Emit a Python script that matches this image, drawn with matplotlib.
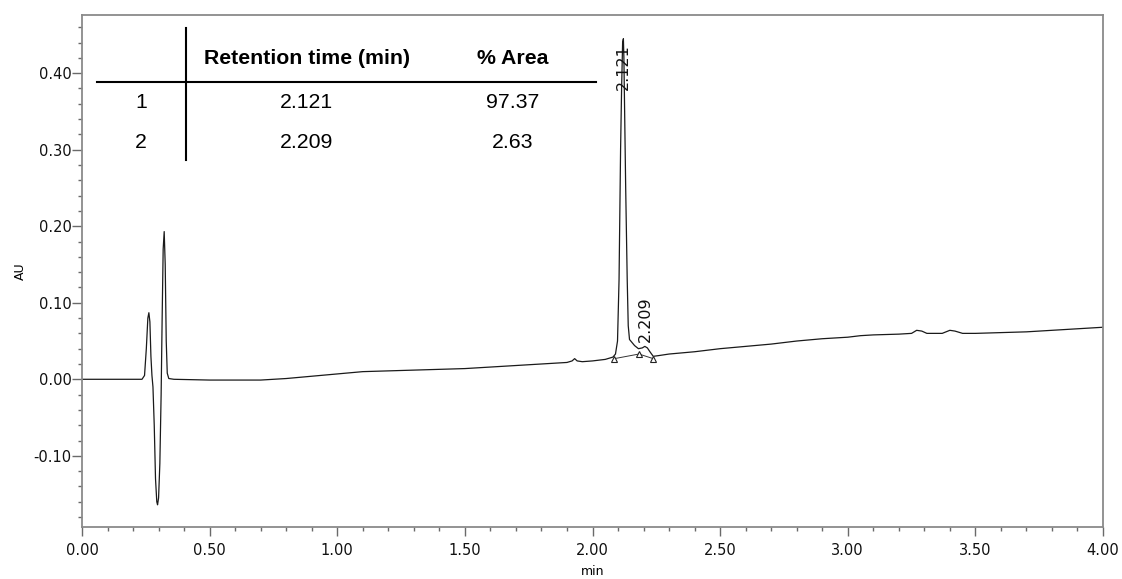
import numpy as np
import matplotlib.pyplot as plt
from matplotlib.lines import Line2D
from matplotlib.ticker import MultipleLocator, FormatStrFormatter

# chromatogram trace (time in min, absorbance in AU)
t = [0.00, 0.10, 0.20, 0.235, 0.245, 0.252, 0.258, 0.262, 0.266, 0.270, 0.274,
     0.278, 0.283, 0.288, 0.293, 0.296, 0.300, 0.305, 0.310, 0.314, 0.318,
     0.322, 0.326, 0.330, 0.334, 0.340, 0.36, 0.50, 0.60, 0.70, 0.80, 0.90,
     1.00, 1.10, 1.20, 1.30, 1.40, 1.50, 1.60, 1.70, 1.80, 1.90, 1.92, 1.93,
     1.94, 1.96, 2.00, 2.05, 2.08, 2.09, 2.098, 2.104, 2.110, 2.114, 2.118,
     2.121, 2.123, 2.130, 2.136, 2.140, 2.145, 2.155, 2.165, 2.180, 2.195,
     2.205, 2.215, 2.225, 2.238, 2.26, 2.30, 2.40, 2.50, 2.60, 2.70, 2.80,
     2.90, 3.00, 3.05, 3.10, 3.20, 3.25, 3.27, 3.29, 3.31, 3.37, 3.40, 3.42,
     3.45, 3.50, 3.60, 3.70, 3.80, 3.90, 4.00]
au = [0.000, 0.000, 0.000, 0.000, 0.005, 0.040, 0.080, 0.087, 0.075, 0.030, 0.005,
      -0.010, -0.060, -0.130, -0.160, -0.164, -0.155, -0.110, -0.020, 0.080, 0.170,
      0.193, 0.150, 0.050, 0.008, 0.001, 0.000, -0.001, -0.001, -0.001, 0.001, 0.004,
      0.007, 0.010, 0.011, 0.012, 0.013, 0.014, 0.016, 0.018, 0.020, 0.022, 0.024, 0.027,
      0.024, 0.023, 0.024, 0.026, 0.029, 0.033, 0.050, 0.130, 0.300, 0.380, 0.440,
      0.445, 0.420, 0.250, 0.130, 0.070, 0.052, 0.048, 0.044, 0.040, 0.041,
      0.043, 0.041, 0.036, 0.030, 0.031, 0.033, 0.036, 0.040, 0.043, 0.046, 0.050,
      0.053, 0.055, 0.057, 0.058, 0.059, 0.060, 0.064, 0.063, 0.060, 0.060, 0.064, 0.063,
      0.060, 0.060, 0.061, 0.062, 0.064, 0.066, 0.068]

# integration marks
mark_t = [2.086, 2.182, 2.238]
mark_au = [0.027, 0.033, 0.027]

# peak labels
peak_t = [2.121, 2.209]
peak_label_y = [0.378, 0.049]

# results table
peak_ids = ['1', '2']
ret_times = ['2.121', '2.209']
pct_area = ['97.37', '2.63']

W, H = 1122, 579
fig = plt.figure(figsize=(W / 100, H / 100), dpi=100)
ax = fig.add_axes([82 / W, 1 - 527 / H, (1103 - 82) / W, (527 - 15) / H])

ax.plot(t, au, color='#1a1a1a', lw=0.9)
ax.plot(mark_t, mark_au, color='#333333', lw=0.7)
ax.plot(mark_t, mark_au, ls='none', marker='^', ms=5, mfc='white', mec='#222222', mew=0.8)
for pt, py in zip(peak_t, peak_label_y):
    ax.text(pt, py, f'{pt:.3f}', rotation=90, ha='center', va='bottom',
            fontsize=11.5, color='#111111')

ax.set_xlim(0, 4.0)
ax.set_ylim(-0.193, 0.476)
ax.xaxis.set_major_locator(MultipleLocator(0.5))
ax.xaxis.set_minor_locator(MultipleLocator(0.1))
ax.yaxis.set_major_locator(MultipleLocator(0.1))
ax.yaxis.set_minor_locator(MultipleLocator(0.02))
ax.xaxis.set_major_formatter(FormatStrFormatter('%.2f'))
ax.yaxis.set_major_formatter(FormatStrFormatter('%.2f'))

for s in ax.spines.values():
    s.set_color('#8a8a8a')
    s.set_linewidth(1.3)
ax.tick_params(which='both', color='#6a6a6a', width=1, labelcolor='#111111', labelsize=10.5)
ax.tick_params(axis='y', which='major', length=7, pad=0.5)
ax.tick_params(axis='x', which='major', length=6.5, pad=5)
ax.tick_params(which='minor', length=3)

ax.set_xlabel('min', fontsize=9, labelpad=5)
ax.set_ylabel('AU', fontsize=9, labelpad=5)

# table drawn in figure pixels
def fx(x):
    return x / W

def fy(y):
    return 1 - y / H

fig.add_artist(Line2D([fx(97), fx(596)], [fy(81.7), fy(81.7)], color='black', lw=1.5))
fig.add_artist(Line2D([fx(185.5), fx(185.5)], [fy(28), fy(160)], color='black', lw=1.5))
tfont = dict(family='Liberation Sans', fontsize=15.3, color='black', ha='center', va='center')
fig.text(fx(306.5), fy(58), 'Retention time (min)', fontweight='bold', **tfont)
fig.text(fx(513), fy(58), '% Area', fontweight='bold', **tfont)
for i, (pid, rt, pa) in enumerate(zip(peak_ids, ret_times, pct_area)):
    yy = fy(103 + 40 * i)
    fig.text(fx(141), yy, pid, **tfont)
    fig.text(fx(306.5), yy, rt, **tfont)
    fig.text(fx(513), yy, pa, **tfont)

fig.savefig('out.png', dpi=100)
